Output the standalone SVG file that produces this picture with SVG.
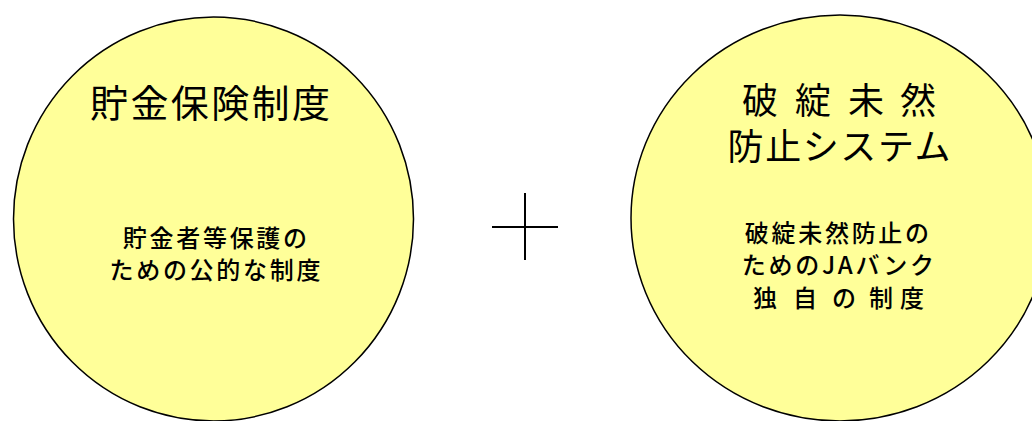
<svg xmlns="http://www.w3.org/2000/svg" width="1032" height="421" viewBox="0 0 1032 421">
<style>
.c{fill:#FFFF99;stroke:#000;stroke-width:1.5}
.t{font-family:"Noto Sans CJK JP","Noto Sans",sans-serif;fill:#000;text-anchor:middle}
.h1{font-size:38px;letter-spacing:2.4px}
.h2{font-size:36px}
.s{font-size:24px;letter-spacing:2.7px;font-weight:500}
.p{stroke:#000;stroke-width:2}
</style>
<rect width="1032" height="421" fill="#fff"/>
<g id="node-left">
<ellipse class="c" cx="213.5" cy="219" rx="200" ry="202"/>
<text class="t h1" x="211.2" y="117">貯金保険制度</text>
<text class="t s" x="216.3" y="247">貯金者等保護の<tspan x="216.3" y="279">ための公的な制度</tspan></text>
</g>
<g id="node-right">
<ellipse class="c" cx="840" cy="218" rx="209" ry="203"/>
<text class="t h2" x="760 813 866 918" y="114">破綻未然<tspan x="839.8" y="160" letter-spacing="1.6">防止システム</tspan></text>
<text class="t s" x="838.3" y="242">破綻未然防止の<tspan x="839.3" y="274">ためのJAバンク</tspan><tspan x="765 805 844 881 912" y="307" letter-spacing="0">独自の制度</tspan></text>
</g>
<g id="connectors">
<line class="p" x1="492" y1="227" x2="558" y2="227"/>
<line class="p" x1="525" y1="193" x2="525" y2="260"/>
</g>
</svg>
